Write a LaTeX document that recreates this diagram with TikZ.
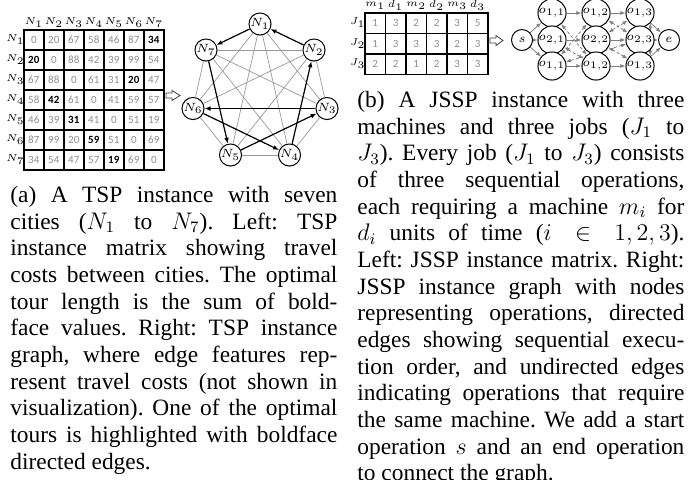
\documentclass[tikz,border=0pt]{standalone}
\usepackage{fontspec}
\usepackage{xcolor}
\setmainfont{Liberation Serif}
\newfontfamily\cellfont{Carlito}
\usetikzlibrary{matrix,arrows.meta,backgrounds}

\begin{document}
\begin{tikzpicture}[x=0.5pt, y=-0.5pt,
        costcell/.style={draw, line width=0.8pt, minimum size=10pt, inner sep=0pt, anchor=center, text=gray!90, font=\cellfont\fontsize{5.5}{6}\selectfont},
        hdr/.style={draw=none, text=black, font=\fontsize{5.5}{6}\selectfont},
        tourval/.style={text=black, font=\cellfont\fontsize{5.5}{6}\selectfont\bfseries},
        city/.style={circle, draw, fill=white, line width=0.5pt, inner sep=0pt, minimum size=10.5pt, font=\fontsize{6}{7}\selectfont},
        road/.style={draw=gray!80, line width=0.35pt},
        tour/.style={draw=black, line width=0.6pt, -{Latex[length=3pt, width=2.4pt]}},
        job/.style={draw=gray, line width=0.4pt, -{Latex[length=2.5pt, width=2pt]}},
        machine/.style={draw=gray, line width=0.4pt, dash pattern=on 1.5pt off 1pt, {Latex[length=2.5pt, width=2pt]}-{Latex[length=2.5pt, width=2pt]}},
        hollow/.style={draw=gray!50!black, line width=0.4pt, fill=white},
        captext/.style={anchor=north west, text width=163.5pt, inner sep=0pt, align=justify, font=\fontsize{11.7}{13.33}\selectfont\frenchspacing}]
    \useasboundingbox (0,0) rectangle (699,479);

        \matrix (tspm) [matrix of nodes, matrix anchor=tspm-2-2.north west, column sep=-0.8pt, row sep=-0.8pt,
            nodes={costcell}, row 1/.style={nodes={hdr, minimum height=8pt}}, column 1/.style={nodes={hdr, minimum width=8pt}}] at (23,29) {
              & $N_1$ & $N_2$ & $N_3$ & $N_4$ & $N_5$ & $N_6$ & $N_7$ \\
        $N_1$ & 0 & 20 & 67 & 58 & 46 & 87 & |[tourval]| 34 \\
        $N_2$ & |[tourval]| 20 & 0 & 88 & 42 & 39 & 99 & 54 \\
        $N_3$ & 67 & 88 & 0 & 61 & 31 & |[tourval]| 20 & 47 \\
        $N_4$ & 58 & |[tourval]| 42 & 61 & 0 & 41 & 59 & 57 \\
        $N_5$ & 46 & 39 & |[tourval]| 31 & 41 & 0 & 51 & 19 \\
        $N_6$ & 87 & 99 & 20 & |[tourval]| 59 & 51 & 0 & 69 \\
        $N_7$ & 34 & 54 & 47 & 57 & |[tourval]| 19 & 69 & 0 \\
        };
        \draw[hollow] (166,93) -- (172,93) -- (172,90.5) -- (180,95.5) -- (172,100.5) -- (172,98) -- (166,98) -- cycle;

        \node (N1) [city] at (260,24) {$N_1$};
        \node (N2) [city] at (314,50) {$N_2$};
        \node (N3) [city] at (327,108.5) {$N_3$};
        \node (N4) [city] at (289.5,155) {$N_4$};
        \node (N5) [city] at (230.5,155) {$N_5$};
        \node (N6) [city] at (193,108.5) {$N_6$};
        \node (N7) [city] at (206,50) {$N_7$};
        \draw[road] (N1) -- (N3);
        \draw[road] (N1) -- (N4);
        \draw[road] (N1) -- (N5);
        \draw[road] (N1) -- (N6);
        \draw[road] (N2) -- (N3);
        \draw[road] (N2) -- (N5);
        \draw[road] (N2) -- (N6);
        \draw[road] (N2) -- (N7);
        \draw[road] (N3) -- (N4);
        \draw[road] (N3) -- (N7);
        \draw[road] (N4) -- (N5);
        \draw[road] (N4) -- (N7);
        \draw[road] (N5) -- (N6);
        \draw[road] (N6) -- (N7);
        \draw[tour] (N1) -- (N7);
        \draw[tour] (N7) -- (N5);
        \draw[tour] (N5) -- (N3);
        \draw[tour] (N3) -- (N6);
        \draw[tour] (N6) -- (N4);
        \draw[tour] (N4) -- (N2);
        \draw[tour] (N2) -- (N1);

        \matrix (jsspm) [matrix of nodes, matrix anchor=jsspm-2-2.north west, column sep=-0.8pt, row sep=-0.8pt,
            nodes={costcell, minimum size=10.25pt}, row 1/.style={nodes={hdr, minimum height=8pt}}, column 1/.style={nodes={hdr, minimum width=8pt}}] at (364,12) {
              & $m_1$ & $d_1$ & $m_2$ & $d_2$ & $m_3$ & $d_3$ \\
        $J_1$ & 1 & 3 & 2 & 2 & 3 & 5 \\
        $J_2$ & 1 & 3 & 3 & 3 & 2 & 3 \\
        $J_3$ & 2 & 2 & 1 & 2 & 3 & 3 \\
        };
        \draw[hollow] (490,38) -- (496,38) -- (496,35.5) -- (503,40.5) -- (496,45.5) -- (496,43) -- (490,43) -- cycle;

        \node (s) [city] at (522,40) {$s$};
        \node (o11) [city] at (552,13) {$o_{1,1}$};
        \node (o12) [city] at (596,13) {$o_{1,2}$};
        \node (o13) [city] at (640,13) {$o_{1,3}$};
        \node (o21) [city] at (552,40) {$o_{2,1}$};
        \node (o22) [city] at (596,40) {$o_{2,2}$};
        \node (o23) [city] at (640,40) {$o_{2,3}$};
        \node (o31) [city] at (552,66) {$o_{1,1}$};
        \node (o32) [city] at (596,66) {$o_{1,2}$};
        \node (o33) [city] at (640,66) {$o_{1,3}$};
        \node (e) [city] at (669,40) {$e$};
        \begin{scope}[on background layer]
        \draw[job] (s) -- (o11);
        \draw[job] (s) -- (o21);
        \draw[job] (s) -- (o31);
        \draw[job] (o11) -- (o12);
        \draw[job] (o12) -- (o13);
        \draw[job] (o21) -- (o22);
        \draw[job] (o22) -- (o23);
        \draw[job] (o31) -- (o32);
        \draw[job] (o32) -- (o33);
        \draw[job] (o13) -- (e);
        \draw[job] (o23) -- (e);
        \draw[job] (o33) -- (e);
        \draw[machine] (o11) -- (o21);
        \draw[machine] (o11) -- (o32);
        \draw[machine] (o21) -- (o32);
        \draw[machine] (o12) -- (o23);
        \draw[machine] (o12) -- (o31);
        \draw[machine] (o23) -- (o31);
        \draw[machine] (o13) -- (o22);
        \draw[machine] (o13.-45) -- (o33.45);
        \draw[machine] (o22) -- (o33);
        \end{scope}

        \node (capa) [captext] at (10,186) {\noindent (a) A TSP instance with seven\linebreak cities ($N_1$ to $N_7$). Left: TSP\linebreak instance matrix showing travel\linebreak costs between cities. The optimal\linebreak tour length is the sum of bold-\linebreak face values. Right: TSP instance\linebreak graph, where edge features rep-\linebreak resent travel costs (not shown in\linebreak visualization). One of the optimal\linebreak tours is highlighted with boldface\linebreak directed edges.};
        \node (capb) [captext] at (357,91) {\noindent (b) A JSSP instance with three\linebreak machines and three jobs ($J_1$ to\linebreak $J_3$). Every job ($J_1$ to $J_3$) consists\linebreak of three sequential operations,\linebreak each requiring a machine $m_i$ for\linebreak $d_i$ units of time ($i\in 1,2,3$).\linebreak Left: JSSP instance matrix. Right:\linebreak JSSP instance graph with nodes\linebreak representing operations, directed\linebreak edges showing sequential execu-\linebreak tion order, and undirected edges\linebreak indicating operations that require\linebreak the same machine. We add a start\linebreak operation $s$ and an end operation\linebreak to connect the graph.};
    \end{tikzpicture}
\end{document}
